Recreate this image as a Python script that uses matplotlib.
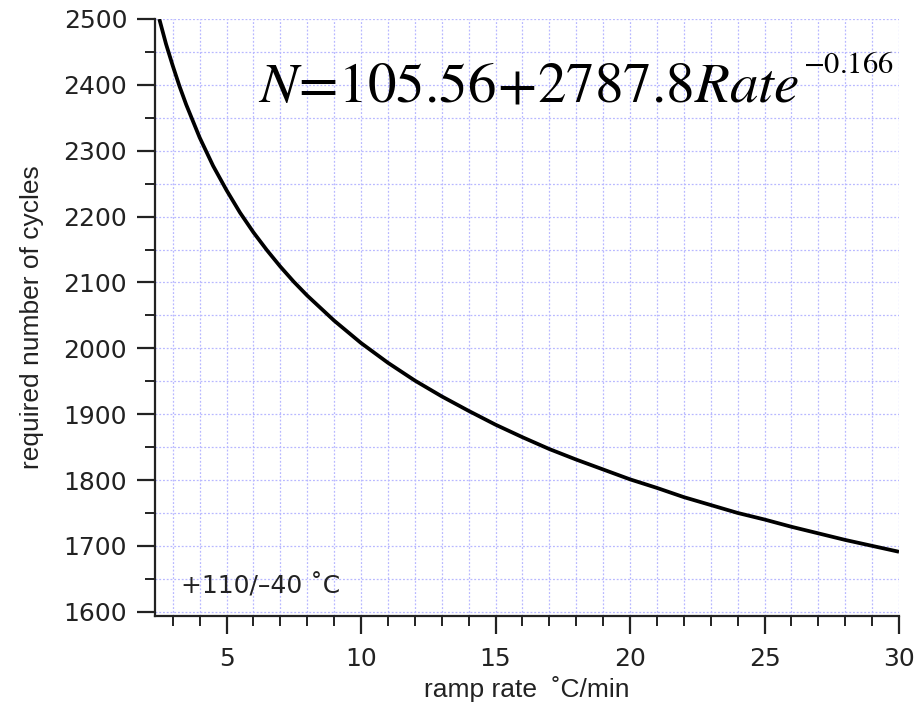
import matplotlib
matplotlib.use("Agg")
import matplotlib.pyplot as plt
from matplotlib.ticker import MultipleLocator

# Values
rate = [2.5, 2.75, 3, 3.25, 3.5, 4, 4.5, 5, 5.5, 6, 6.5, 7, 7.5, 8, 9, 10,
        11, 12, 13, 14, 15, 16, 17, 18, 19, 20, 21, 22, 23, 24, 25, 26, 27, 28, 29, 30]
cycles = [2500, 2462, 2429, 2398, 2370, 2320, 2277, 2240, 2206, 2176, 2149, 2124,
          2101, 2080, 2042, 2008, 1978, 1951, 1927, 1905, 1884, 1865, 1847, 1831,
          1816, 1801, 1788, 1774, 1762, 1750, 1740, 1729, 1719, 1709, 1700, 1691]

equation_base = r"$N\!=\!105.56\!+\!2787.8Rate$"
equation_exp = r"$-0.166$"
note = "+110/\u201340 \u02daC"
xlabel = "ramp rate  \u02daC/min"
ylabel = "required number of cycles"

plt.rcParams["mathtext.fontset"] = "stix"
plt.rcParams["font.family"] = ["DejaVu Sans"]

fig = plt.figure(figsize=(9.18, 7.09), dpi=100)
ax = fig.add_axes([155/918, 1-616/709, (899-155)/918, (616-19)/709])

ax.plot(rate, cycles, color="black", lw=2.7, solid_capstyle="butt",
        solid_joinstyle="round", zorder=3)

ax.set_xlim(2.34, 30)
ax.set_ylim(1593.5, 2500)

ax.xaxis.set_major_locator(MultipleLocator(5))
ax.xaxis.set_minor_locator(MultipleLocator(1))
ax.yaxis.set_major_locator(MultipleLocator(100))
ax.yaxis.set_minor_locator(MultipleLocator(50))

grid_kw = dict(color="#b8b8ff", linestyle=(0, (1.5, 1.5)), linewidth=0.9)
ax.grid(True, which="both", **grid_kw)
ax.set_axisbelow(True)

for s in ["top", "right"]:
    ax.spines[s].set_visible(False)
for s in ["left", "bottom"]:
    ax.spines[s].set_linewidth(1.6)
    ax.spines[s].set_color("#222222")

ax.tick_params(which="major", direction="out", length=13, width=1.6, labelsize=18,
               colors="#222222", pad=7)
ax.tick_params(which="minor", direction="out", length=7, width=1.4, colors="#222222")
ax.tick_params(axis="x", which="major", pad=9)

ax.set_xlabel(xlabel, fontsize=19, family=["Liberation Sans", "DejaVu Sans"],
              color="#222222", labelpad=4)
ax.set_ylabel(ylabel, fontsize=19, family=["Liberation Sans", "DejaVu Sans"],
              color="#222222", labelpad=14)

ax.text((258-155)/744, (616-101)/597, equation_base, transform=ax.transAxes,
        ha="left", va="baseline", fontsize=41, color="black")
ax.text((894-155)/744, (616-73)/597, equation_exp, transform=ax.transAxes,
        ha="right", va="baseline", fontsize=22, color="black")
ax.text(0.035, 0.038, note, transform=ax.transAxes, ha="left", va="baseline",
        fontsize=18, color="#222222")

fig.savefig("out.png", dpi=100)
